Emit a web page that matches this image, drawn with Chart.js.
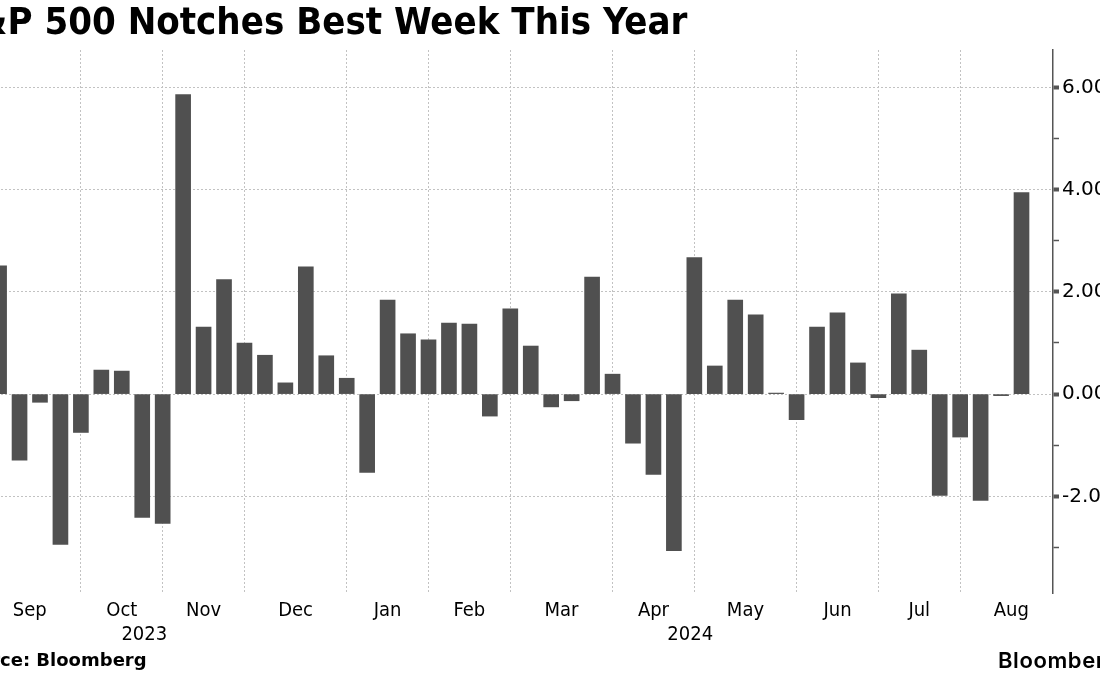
<!DOCTYPE html>
<html><head><meta charset="utf-8">
<script src="https://cdn.jsdelivr.net/npm/chart.js@4.4.1/dist/chart.umd.min.js"></script>
<style>
html,body{margin:0;padding:0;background:#fff;overflow:hidden;width:1100px;height:675px;position:relative;}
#wrap{position:absolute;left:-47px;top:0;width:1172px;height:675px;}
#source{position:absolute;left:-47px;top:649px;font:bold 18px 'DejaVu Sans',sans-serif;color:#000;white-space:pre;}
#logo{position:absolute;left:998px;top:647px;font:600 22px Inter,Roboto,sans-serif;color:#000;white-space:nowrap;letter-spacing:0.6px;}
</style></head><body>
<div id="wrap"><canvas id="c" width="1172" height="675"></canvas></div>
<div id="source">Source: Bloomberg</div>
<div id="logo">Bloomberg</div>
<script>
// ---- data ----
const firstWeekEnding = [2023, 8, 1]; // Friday 1 Sep 2023 (month 0-based)
const weeklyChangePct = [2.51, -1.29, -0.16, -2.94, -0.75, 0.47, 0.45, -2.41, -2.53, 5.86,
  1.31, 2.24, 1.00, 0.76, 0.22, 2.49, 0.75, 0.31, -1.53, 1.84,
  1.18, 1.06, 1.39, 1.37, -0.43, 1.67, 0.94, -0.25, -0.13, 2.29,
  0.39, -0.96, -1.57, -3.06, 2.67, 0.55, 1.84, 1.55, 0.02, -0.50,
  1.31, 1.59, 0.61, -0.07, 1.96, 0.86, -1.98, -0.84, -2.08, -0.03, 3.94];
const monthNames = ['Jan','Feb','Mar','Apr','May','Jun','Jul','Aug','Sep','Oct','Nov','Dec'];
const yearLabels = ['2023', '2024'];
const yearLabelWeek = [7.1, 33.8];
const yTickValues = [-3, -2, -1, 0, 1, 2, 3, 4, 5, 6];
const yMin = -3.89, yMax = 6.73;
const xMin = -2.254, xMax = 51.54;
const titleText = 'S&P 500 Notches Best Week This Year';

// ---- derived weekly dates / month boundaries ----
const DAY = 864e5;
const start = Date.UTC(firstWeekEnding[0], firstWeekEnding[1], firstWeekEnding[2]);
const monthOf = i => new Date(start + i * 7 * DAY).getUTCMonth();
const boundaries = [];
for (let i = -3; i <= weeklyChangePct.length + 3; i++) {
  if (monthOf(i) !== monthOf(i + 1)) boundaries.push(i);
}
const monthTicks = [];
for (let k = 0; k < boundaries.length - 1; k++) {
  monthTicks.push({ value: (boundaries[k] + boundaries[k + 1]) / 2, label: monthNames[monthOf(boundaries[k] + 1)] });
}
const gridBoundaries = boundaries.filter(b => b >= xMin && b <= xMax);
const monthLabelMap = new Map(monthTicks.map(t => [t.value, t.label]));
const boundarySet = new Set(gridBoundaries);
const yearMap = new Map(yearLabelWeek.map((v, i) => [v, yearLabels[i]]));

const FONT_C = "'DejaVu Sans Condensed','DejaVu Sans',sans-serif";
const FONT = "'DejaVu Sans',sans-serif";
const GRID = '#c2c2c2';

new Chart(document.getElementById('c'), {
  type: 'bar',
  data: {
    datasets: [{
      data: weeklyChangePct.map((v, i) => ({ x: i, y: v })),
      backgroundColor: '#505050',
      barThickness: 15,
      xAxisID: 'x', yAxisID: 'y'
    }]
  },
  options: {
    responsive: false, animation: false, devicePixelRatio: 1,
    layout: { padding: { left: 0, right: 0, top: 0, bottom: 28 } },
    plugins: {
      legend: { display: false }, tooltip: { enabled: false },
      title: {
        display: true, text: titleText, align: 'start', color: '#000',
        font: { family: FONT_C, size: 38, weight: 'bold', lineHeight: 1.2 },
        padding: { top: 1, bottom: 3.4 }
      }
    },
    scales: {
      x: {
        type: 'linear', position: 'bottom', min: xMin, max: xMax, offset: false,
        afterBuildTicks: s => {
          s.ticks = gridBoundaries.concat(monthTicks.map(t => t.value))
            .filter(v => v >= xMin && v <= xMax).sort((a, b) => a - b).map(v => ({ value: v }));
        },
        ticks: {
          autoSkip: false, maxRotation: 0, minRotation: 0, padding: 6, color: '#000',
          font: { family: FONT_C, size: 20 },
          callback: v => monthLabelMap.get(v) || ''
        },
        grid: {
          offset: false, drawTicks: false, lineWidth: 1,
          color: c => (c.tick && boundarySet.has(c.tick.value)) ? GRID : 'rgba(0,0,0,0)'
        },
        border: { display: false, dash: [2, 2] },
        afterFit: s => { s.height = 28; }
      },
      xYear: {
        type: 'linear', position: 'bottom', min: xMin, max: xMax, offset: false,
        afterBuildTicks: s => { s.ticks = yearLabelWeek.map(v => ({ value: v })); },
        ticks: {
          autoSkip: false, maxRotation: 0, minRotation: 0, padding: 2, color: '#000',
          font: { family: FONT_C, size: 20 },
          callback: v => yearMap.get(v) || ''
        },
        grid: { display: false, drawTicks: false, offset: false },
        border: { display: false },
        afterFit: s => { s.height = 26; }
      },
      y: {
        position: 'right', min: yMin, max: yMax,
        afterBuildTicks: s => { s.ticks = yTickValues.map(v => ({ value: v })); },
        ticks: {
          autoSkip: false, padding: 3, color: '#000',
          font: { family: FONT, size: 20 },
          callback: v => (v % 2 === 0 ? v.toFixed(2) : '')
        },
        grid: {
          lineWidth: 1, tickLength: 6, tickColor: '#555',
          tickWidth: c => (c.tick && c.tick.value % 2 === 0) ? 4 : 1.5,
          color: c => (c.tick && c.tick.value % 2 === 0) ? GRID : 'rgba(0,0,0,0)'
        },
        border: { display: true, color: '#555', width: 1.5, dash: [2, 2] },
        afterFit: s => { s.width = 72; }
      }
    }
  }
});
</script>
</body></html>
